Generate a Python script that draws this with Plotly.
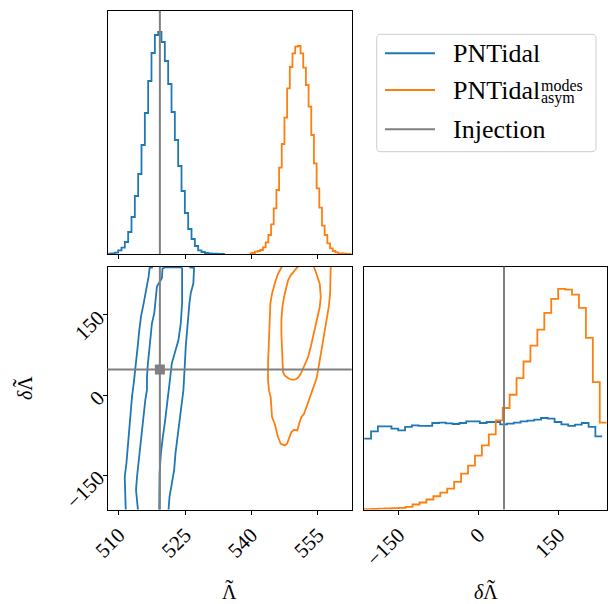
import numpy as np
import plotly.graph_objects as go

# ---------------- data ----------------
series_names = ["PNTidal", "PNTidal_asym^modes"]
inj_lam = 519.3
inj_dlam = 48.0

lam_range = [507.45, 562.7]
dlam_range = [-214.5, 240.5]
lam_ticks = [510, 525, 540, 555]
lam_ticktext = ["510", "525", "540", "555"]
dlam_ticks = [-150, 0, 150]
dlam_ticktext = ["\u2212150", "0", "150"]

# marginal of Lambda-tilde (step histograms)
pnt_lam_lo, pnt_lam_hi = 507.6, 534.0
pnt_lam_counts = [0.3, 0.7, 1.3, 3.7, 6.3, 12, 22, 37, 58, 80, 109, 141, 173, 201, 219,
                  222, 212, 193, 170, 142, 114, 88, 63, 41, 25, 15, 8, 3.7, 2, 1,
                  0.6, 0.4, 0.3, 0.2, 0.1]
asym_lam_lo, asym_lam_hi = 539.6, 562.65
asym_lam_counts = [0.7, 1.0, 2.3, 3.0, 4.0, 6.7, 11.7, 19, 29.7, 45.7, 64, 86.3, 110, 136.3,
                   165.7, 187, 200.7, 207.3, 208, 200.7, 186.3, 169, 147.3, 119, 90.7, 65.7,
                   46.3, 28.3, 19, 10.7, 5.7, 3, 1.7, 0.7, 0.5, 0.3, 0.2, 0.1]

# marginal of delta Lambda-tilde
pnt_dlam_lo, pnt_dlam_hi = -214.0, 232.0
pnt_dlam_counts = [71, 78.3, 83.3, 83.3, 81, 79.3, 82.7, 84.3, 83.7, 83.7, 86.7, 87, 86.3,
                   85.7, 86.7, 88.3, 88.3, 86.7, 87.7, 87.7, 85.3, 86, 87, 88.3, 89, 90,
                   91.7, 91, 87.7, 85.3, 83.7, 85, 86.7, 82.7, 73.3]
asym_dlam_lo, asym_dlam_hi = -214.5, 240.5
asym_dlam_counts = [0.3, 0.5, 0.8, 1.0, 1.3, 1.7, 2.7, 5, 7, 10, 13.3, 17, 21, 27.7, 36, 44,
                    54, 64.3, 75.3, 89.3, 101.7, 115, 131.7, 148.3, 164.3, 180.3, 197, 211,
                    221, 220.3, 215.3, 202, 172, 127.7, 87]
hist_top = 243.3

# 2D credible contours (Lambda-tilde, delta Lambda-tilde)
pnt_outer_left_lam = [511.58, 511.35, 511.35, 511.73, 512.03, 512.25, 512.63, 513.0, 513.38,
                      513.75, 513.98, 514.28, 514.65, 515.03, 515.63, 516.23, 516.75, 516.98, 517.73]
pnt_outer_left_dlam = [-216, -178.1, -153.1, -128.1, -96.9, -65.6, -34.4, -3.1, 21.9, 46.9,
                       65.6, 90.6, 121.9, 146.9, 171.9, 196.9, 221.9, 238.1, 239.4]
pnt_outer_right_lam = [525.98, 527.03, 526.88, 526.28, 525.98, 525.6, 525.38, 525.15, 525.0,
                       524.85, 524.63, 524.25, 523.73, 523.28, 522.83, 522.53, 522.0, 521.48, 521.25]
pnt_outer_right_dlam = [239.4, 238.1, 209.4, 190.6, 171.9, 140.6, 115.6, 90.6, 65.6, 34.4, 9.4,
                        -15.6, -46.9, -78.1, -109.4, -140.6, -165.6, -190.6, -216]
pnt_inner_lam = [514.35, 514.13, 513.9, 514.13, 514.5, 514.88, 515.25, 515.63, 516.0, 516.38,
                 516.38, 516.6, 516.9, 517.13, 517.5, 518.03, 518.4, 518.63, 519.75, 519.9,
                 520.5, 523.88, 524.33, 524.4, 524.33, 524.03, 523.5, 522.75, 522.0, 521.48,
                 521.03, 520.5, 519.98, 519.53, 519.23, 519.15]
pnt_inner_dlam = [-216, -196.9, -178.1, -153.1, -121.9, -90.6, -59.4, -34.4, -9.4, 9.4, 34.4,
                  59.4, 84.4, 109.4, 134.4, 153.1, 178.1, 203.1, 218.8, 237.5, 239.4, 239.4,
                  237.5, 209.4, 171.9, 134.4, 103.1, 81.3, 59.4, 21.9, -15.6, -46.9, -78.1,
                  -109.4, -146.9, -216]
asym_outer_lam = [546.94, 546.03, 545.28, 544.67, 544.30, 544.14, 543.99, 543.92, 543.77, 543.77,
                  543.99, 544.37, 544.52, 544.67, 545.28, 545.66, 546.03, 546.64, 547.54, 548.07,
                  548.52, 549.05, 549.66, 550.41, 550.79, 551.32, 551.92, 552.45, 552.98, 553.58,
                  554.19, 554.72, 555.09, 555.47, 556.0, 556.38, 556.75, 557.13, 557.51, 557.81,
                  557.96, 557.96]
asym_outer_dlam = [241, 227.4, 208.7, 189.9, 171.2, 146.2, 121.2, 89.9, 58.7, 27.4, 8.7, -3.8,
                   -22.6, -41.3, -53.8, -66.3, -78.8, -91.3, -94.4, -91.3, -81.9, -69.4, -65.1,
                   -66.3, -53.8, -41.3, -35.1, -22.6, -10.1, 2.4, 14.9, 30.6, 46.2, 64.9, 83.7,
                   102.4, 121.2, 139.9, 165.0, 189.9, 214.9, 241]
asym_inner_lam = [550.56, 549.81, 548.90, 548.30, 547.92, 547.39, 547.01, 546.79, 546.79, 546.94,
                  547.01, 547.16, 547.54, 548.30, 549.05, 549.81, 550.56, 551.17, 551.69, 552.22,
                  552.83, 553.43, 553.96, 554.49, 555.09, 555.47, 555.70, 555.47, 554.72, 554.11]
asym_inner_dlam = [241, 233.7, 224.3, 214.9, 202.5, 183.7, 165.0, 139.9, 114.9, 89.9, 64.9, 43.1,
                   36.8, 31.8, 28.7, 28.7, 32.4, 39.9, 49.3, 58.7, 71.2, 89.9, 108.7, 127.5,
                   146.2, 165.0, 183.7, 208.7, 227.4, 241]

# ---------------- style ----------------
BLUE = "#1f77b4"
ORANGE = "#ff7f0e"
GRAY = "#808080"
W, H = 608, 604
FONT = "Liberation Serif"
LW = 1.8


def px(x):
    return x / W


def py(y):
    return 1 - y / H


def step(lo, hi, counts):
    edges = np.linspace(lo, hi, len(counts) + 1)
    return list(edges), list(counts) + [counts[-1]]


fig = go.Figure()

# top-left marginal
for lo, hi, c, col in [(pnt_lam_lo, pnt_lam_hi, pnt_lam_counts, BLUE),
                       (asym_lam_lo, asym_lam_hi, asym_lam_counts, ORANGE)]:
    x, y = step(lo, hi, c)
    fig.add_trace(go.Scatter(x=x, y=y, mode="lines", line=dict(shape="hv", color=col, width=LW),
                             xaxis="x", yaxis="y", showlegend=False, hoverinfo="skip"))

# bottom-left contours
for lx, ly, col in [(pnt_outer_left_lam, pnt_outer_left_dlam, BLUE),
                    (pnt_outer_right_lam, pnt_outer_right_dlam, BLUE),
                    (pnt_inner_lam, pnt_inner_dlam, BLUE),
                    (asym_outer_lam, asym_outer_dlam, ORANGE),
                    (asym_inner_lam, asym_inner_dlam, ORANGE)]:
    fig.add_trace(go.Scatter(x=lx, y=ly, mode="lines", line=dict(color=col, width=LW),
                             xaxis="x2", yaxis="y2", showlegend=False, hoverinfo="skip"))

# bottom-right marginal
for lo, hi, c, col in [(pnt_dlam_lo, pnt_dlam_hi, pnt_dlam_counts, BLUE),
                       (asym_dlam_lo, asym_dlam_hi, asym_dlam_counts, ORANGE)]:
    x, y = step(lo, hi, c)
    fig.add_trace(go.Scatter(x=x, y=y, mode="lines", line=dict(shape="hv", color=col, width=LW),
                             xaxis="x3", yaxis="y3", showlegend=False, hoverinfo="skip"))

# injection lines
shapes = [
    dict(type="line", xref="x", yref="y domain", x0=inj_lam, x1=inj_lam, y0=0, y1=1,
         line=dict(color=GRAY, width=2)),
    dict(type="line", xref="x2", yref="y2 domain", x0=inj_lam, x1=inj_lam, y0=0, y1=1,
         line=dict(color=GRAY, width=2)),
    dict(type="line", xref="x2 domain", yref="y2", x0=0, x1=1, y0=inj_dlam, y1=inj_dlam,
         line=dict(color=GRAY, width=2)),
    dict(type="line", xref="x3", yref="y3 domain", x0=inj_dlam, x1=inj_dlam, y0=0, y1=1,
         line=dict(color=GRAY, width=2)),
]
fig.add_trace(go.Scatter(x=[inj_lam], y=[inj_dlam], mode="markers",
                         marker=dict(symbol="square", size=10, color=GRAY),
                         xaxis="x2", yaxis="y2", showlegend=False, hoverinfo="skip"))

# legend (manual)
bx0, bx1, by0, by1, r = 376.7, 596.0, 34.3, 151.7, 4.0


def P(x, y):
    return f"{px(x):.5f},{py(y):.5f}"


path = (f"M {P(bx0 + r, by0)} L {P(bx1 - r, by0)} Q {P(bx1, by0)} {P(bx1, by0 + r)} "
        f"L {P(bx1, by1 - r)} Q {P(bx1, by1)} {P(bx1 - r, by1)} "
        f"L {P(bx0 + r, by1)} Q {P(bx0, by1)} {P(bx0, by1 - r)} "
        f"L {P(bx0, by0 + r)} Q {P(bx0, by0)} {P(bx0 + r, by0)} Z")
shapes.append(dict(type="path", xref="paper", yref="paper", path=path,
                   line=dict(color="#cccccc", width=1), fillcolor="white", layer="above"))
for yy, col in [(53.3, BLUE), (90.0, ORANGE), (129.3, GRAY)]:
    shapes.append(dict(type="line", xref="paper", yref="paper", x0=px(385), x1=px(435),
                       y0=py(yy), y1=py(yy), line=dict(color=col, width=2)))

LEG = 26
black = "black"


def sz(t, s):
    return f"<span style='font-size:{s}px'>{t}</span>"


NB = "\u00a0"
TILDE = "\u02dc"
lam_title = sz(TILDE, 24) + "<br>" + sz("\u039b", 20)
dlam_title = sz(NB + NB, 20) + sz(TILDE, 24) + "<br>" + sz("<i>\u03b4</i>\u039b", 20)

annotations = [
    dict(text="PNTidal", x=px(451), y=py(53.5), xanchor="left", yanchor="middle",
         font=dict(family=FONT, size=LEG, color=black)),
    dict(text="PNTidal", x=px(451), y=py(91), xanchor="left", yanchor="middle",
         font=dict(family=FONT, size=LEG, color=black)),
    dict(text=sz("modes", 16) + "<br>" + sz("asym", 16), x=px(539.5), y=py(76.5),
         xanchor="left", yanchor="top", align="left", borderpad=0,
         font=dict(family=FONT, size=9.5, color=black)),
    dict(text="Injection", x=px(451), y=py(129.5), xanchor="left", yanchor="middle",
         font=dict(family=FONT, size=LEG, color=black)),
    # axis titles
    dict(text=lam_title, x=px(229.6), y=0, xanchor="center", yanchor="bottom", borderpad=0,
         font=dict(family=FONT, size=2, color=black)),
    dict(text=dlam_title, x=px(486), y=0, xanchor="center", yanchor="bottom", borderpad=0,
         font=dict(family=FONT, size=2, color=black)),
    dict(text=dlam_title, x=px(22), y=py(388), xanchor="center", yanchor="middle", borderpad=0,
         textangle=-90, font=dict(family=FONT, size=2, color=black)),
]
for a in annotations:
    a.update(xref="paper", yref="paper", showarrow=False)

tickfont = dict(family=FONT, size=21, color=black)
common = dict(showline=True, mirror=True, linecolor=black, linewidth=1, showgrid=False,
              zeroline=False, ticks="outside", ticklen=4, tickwidth=1, tickcolor=black,
              tickfont=tickfont, automargin=False)

xd_left = [px(107.5), px(351.7)]
xd_right = [px(364.0), px(606.7)]
yd_top = [py(254.0), py(10.7)]
yd_bot = [py(509.5), py(266.7)]

fig.update_layout(
    template="none",
    width=W, height=H, margin=dict(l=0, r=0, t=0, b=0, pad=0), autosize=False,
    paper_bgcolor="white", plot_bgcolor="white", showlegend=False,
    xaxis=dict(domain=xd_left, range=lam_range, anchor="y", tickvals=lam_ticks,
               showticklabels=False, **common),
    yaxis=dict(domain=yd_top, range=[0, hist_top], anchor="x", showticklabels=False,
               **{**common, "ticks": ""}),
    xaxis2=dict(domain=xd_left, range=lam_range, anchor="y2", tickvals=lam_ticks,
                ticktext=lam_ticktext, tickangle=-45, **common),
    yaxis2=dict(domain=yd_bot, range=dlam_range, anchor="x2", tickvals=dlam_ticks,
                ticktext=dlam_ticktext, tickangle=-45, **common),
    xaxis3=dict(domain=xd_right, range=dlam_range, anchor="y3", tickvals=dlam_ticks,
                ticktext=dlam_ticktext, tickangle=-45, **common),
    yaxis3=dict(domain=yd_bot, range=[0, hist_top], anchor="x3", showticklabels=False,
                **{**common, "ticks": ""}),
    shapes=shapes,
    annotations=annotations,
)

fig.write_html("out.html", config={"displayModeBar": False},
               post_script="document.body.style.margin='0';document.body.style.overflow='hidden';")
